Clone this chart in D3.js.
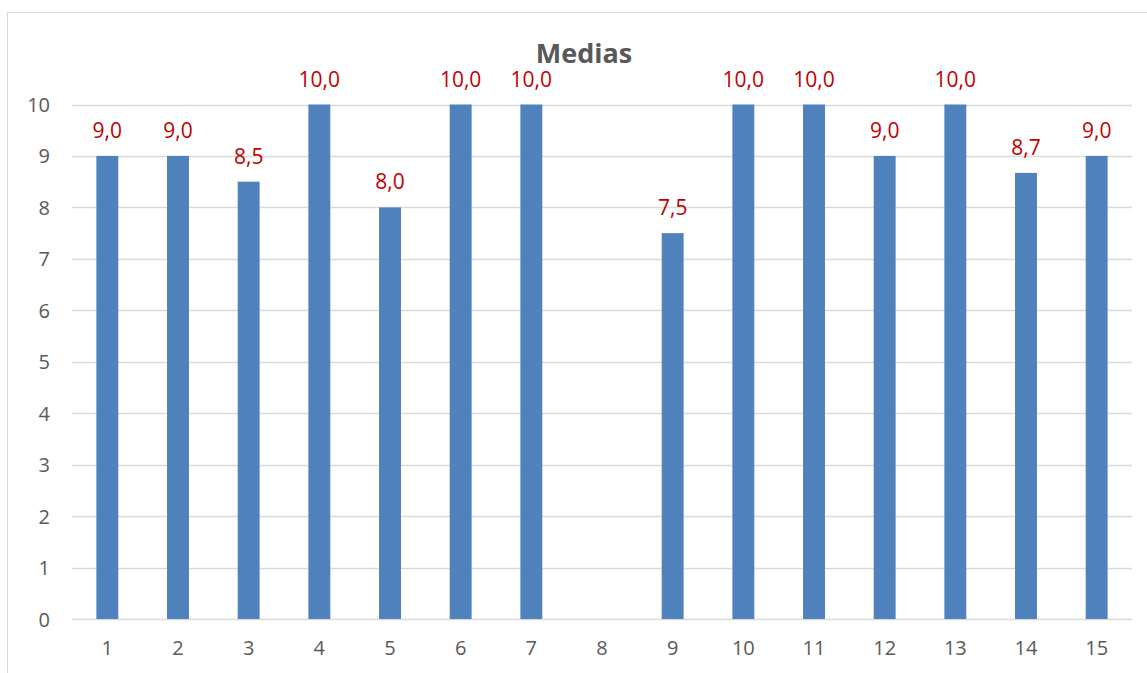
<!DOCTYPE html>
<html>
<head>
<meta charset="utf-8">
<script src="https://cdn.jsdelivr.net/npm/d3@7"></script>
<style>
  body { margin: 0; background: #fff; }
  text { font-family: "Open Sans", Calibri, sans-serif; }
</style>
</head>
<body>
<div id="chart"></div>
<script>
const width = 1147,
    height = 673;

// dados do gráfico
const categories = ["1", "2", "3", "4", "5", "6", "7", "8", "9", "10", "11", "12", "13", "14", "15"];
const medias = [9, 9, 8.5, 10, 8, 10, 10, null, 7.5, 10, 10, 9, 10, 8.67, 9];
const yTicks = [0, 1, 2, 3, 4, 5, 6, 7, 8, 9, 10];
const title = "Medias";

const margin = { top: 104.5, right: 15, bottom: 54, left: 72 };

const svg = d3.select("#chart")
    .append("svg")
    .attr("width", width)
    .attr("height", height);

// moldura do gráfico
svg.append("rect")
    .attr("x", 7.5)
    .attr("y", 12.5)
    .attr("width", width + 10)
    .attr("height", height + 10)
    .style("fill", "none")
    .style("stroke", "#d9d9d9");

const x = d3.scaleBand()
    .domain(categories)
    .range([margin.left, width - margin.right])
    .paddingInner(0.69)
    .paddingOuter(0.345);

const y = d3.scaleLinear()
    .domain([0, 10])
    .range([height - margin.bottom, margin.top]);

// linhas de grelha
svg.append("g")
    .selectAll("line")
    .data(yTicks)
    .enter()
    .append("line")
    .attr("x1", margin.left)
    .attr("x2", width - margin.right)
    .attr("y1", d => Math.round(y(d)) + 0.5)
    .attr("y2", d => Math.round(y(d)) + 0.5)
    .style("stroke", "#d9d9d9")
    .style("stroke-width", 1.3);

// eixo Y
const yAxis = svg.append("g")
    .attr("transform", "translate(" + (margin.left - 22) + ",0)")
    .call(d3.axisLeft(y).tickValues(yTicks).tickSize(0).tickPadding(0));
yAxis.select(".domain").remove();
yAxis.selectAll("text")
    .style("font-size", "20px")
    .style("fill", "#595959")
    .attr("dy", "0.35em");

// eixo X
const xAxis = svg.append("g")
    .attr("transform", "translate(0," + (height - margin.bottom) + ")")
    .call(d3.axisBottom(x).tickSize(0).tickPadding(22));
xAxis.select(".domain").remove();
xAxis.selectAll("text")
    .style("font-size", "20px")
    .style("fill", "#595959");

const data = categories.map((c, i) => ({ cat: c, value: medias[i] }))
    .filter(d => d.value !== null);

// barras
svg.append("g")
    .selectAll("rect")
    .data(data)
    .enter()
    .append("rect")
    .attr("x", d => x(d.cat))
    .attr("y", d => y(d.value))
    .attr("width", x.bandwidth())
    .attr("height", d => y(0) - y(d.value))
    .style("fill", "#4f81bd");

// rótulos de dados
svg.append("g")
    .selectAll("text")
    .data(data)
    .enter()
    .append("text")
    .attr("x", d => x(d.cat) + x.bandwidth() / 2)
    .attr("y", d => y(d.value) - 18)
    .attr("text-anchor", "middle")
    .style("font-size", "21px")
    .style("fill", "#c00000")
    .text(d => d3.format(".1f")(d.value).replace(".", ","));

// título
svg.append("text")
    .attr("x", 584)
    .attr("y", 63)
    .attr("text-anchor", "middle")
    .style("font-size", "27px")
    .style("font-weight", "bold")
    .style("fill", "#595959")
    .text(title);
</script>
</body>
</html>
